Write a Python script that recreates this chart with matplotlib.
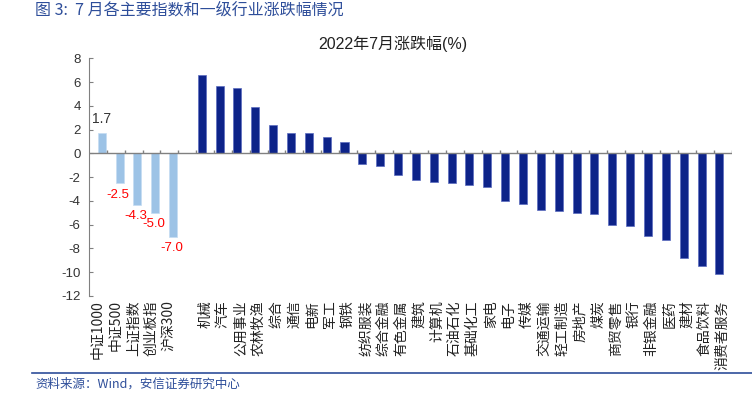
import numpy as np
import matplotlib
matplotlib.use('Agg')
import matplotlib.pyplot as plt

plt.rcParams['font.family'] = ['Liberation Sans', 'Noto Sans CJK SC', 'DejaVu Sans']
plt.rcParams['axes.unicode_minus'] = False

# main indices (light blue)
index_names = ['中证1000', '中证500', '上证指数', '创业板指', '沪深300']
index_values = [1.7, -2.5, -4.3, -5.0, -7.0]

# CITIC level-1 industries (dark blue)
industry_names = ['机械', '汽车', '公用事业', '农林牧渔', '综合', '通信', '电新', '军工', '钢铁',
                  '纺织服装', '综合金融', '有色金属', '建筑', '计算机', '石油石化', '基础化工',
                  '家电', '电子', '传媒', '交通运输', '轻工制造', '房地产', '煤炭', '商贸零售',
                  '银行', '非银金融', '医药', '建材', '食品饮料', '消费者服务']
industry_values = [6.6, 5.7, 5.5, 3.93, 2.43, 1.7, 1.68, 1.42, 0.95,
                   -0.89, -1.08, -1.84, -2.21, -2.41, -2.52, -2.66,
                   -2.86, -4.04, -4.24, -4.75, -4.86, -5.0, -5.06, -5.99,
                   -6.13, -6.92, -7.26, -8.78, -9.45, -10.13]

light = '#9DC3E6'
dark = '#0D2389'
frame = '#808080'

labels = index_names + [''] + industry_names
n = len(labels)
centers = np.arange(n) + 0.5
x_idx = centers[:len(index_names)] + 0.21
x_ind = centers[len(index_names) + 1:] - 0.19

fig = plt.figure(figsize=(7.52, 3.98), dpi=100)
ax = fig.add_axes([0.1184, 0.2563, 0.973 - 0.1184, 0.8533 - 0.2563])

ax.bar(x_idx, index_values, width=0.45, color=light, edgecolor='#C5DDF2', linewidth=0.5, zorder=2)
ax.bar(x_ind, industry_values, width=0.45, color=dark, edgecolor='#5A6BC0', linewidth=0.5, zorder=2)

# value labels for the indices
for x, v in zip(x_idx, index_values):
    if v >= 0:
        ax.annotate(f'{v:.1f}', (x, v), xytext=(0, 5), textcoords='offset points',
                    ha='center', va='bottom', fontsize=10, color='#333333')
    else:
        ax.annotate(f'{v:.1f}', (x, v), xytext=(-1, -4), textcoords='offset points',
                    ha='center', va='top', fontsize=9.5, color='#FF0000')

ax.set_xlim(0, n)
ax.set_ylim(-12, 8)
ax.set_yticks(np.arange(-12, 9, 2))
ax.tick_params(axis='y', direction='in', length=3, labelsize=9.5, colors='#333333', pad=6)
ax.tick_params(axis='y', color=frame)

# horizontal axis drawn at zero, labels kept at bottom
ax.axhline(0, color=frame, linewidth=1, zorder=3)
ax.vlines(np.arange(1, n + 1), 0, 0.28, color=frame, linewidth=1, zorder=3)
ax.set_xticks(centers)
ax.set_xticklabels(labels, rotation=90, fontsize=10, family=['Noto Sans CJK SC', 'DejaVu Sans'])
ax.tick_params(axis='x', length=0, pad=3, colors='#222222')

for s in ['top', 'right', 'bottom']:
    ax.spines[s].set_visible(False)
ax.spines['left'].set_color(frame)

fig.text(0.523, 0.89, '2022年7月涨跌幅(%)', ha='center', va='center', fontsize=11.5,
         color='#222222')

fig.text(0.047, 0.975, '图 3:  7 月各主要指数和一级行业涨跌幅情况', ha='left', va='center',
         fontsize=11.5, color='#2E4E9A', family=['Noto Sans CJK SC', 'DejaVu Sans'])

fig.add_artist(plt.Line2D([0.043, 1.0], [1 - 373.3 / 398, 1 - 373.3 / 398],
                          color='#2E4E9A', linewidth=1.2))
fig.text(0.047, 1 - 384 / 398, '资料来源：Wind，安信证券研究中心', ha='left', va='center',
         fontsize=9, color='#2E4E9A', family=['Noto Sans CJK SC', 'DejaVu Sans'])

fig.savefig('out.png', dpi=100)
